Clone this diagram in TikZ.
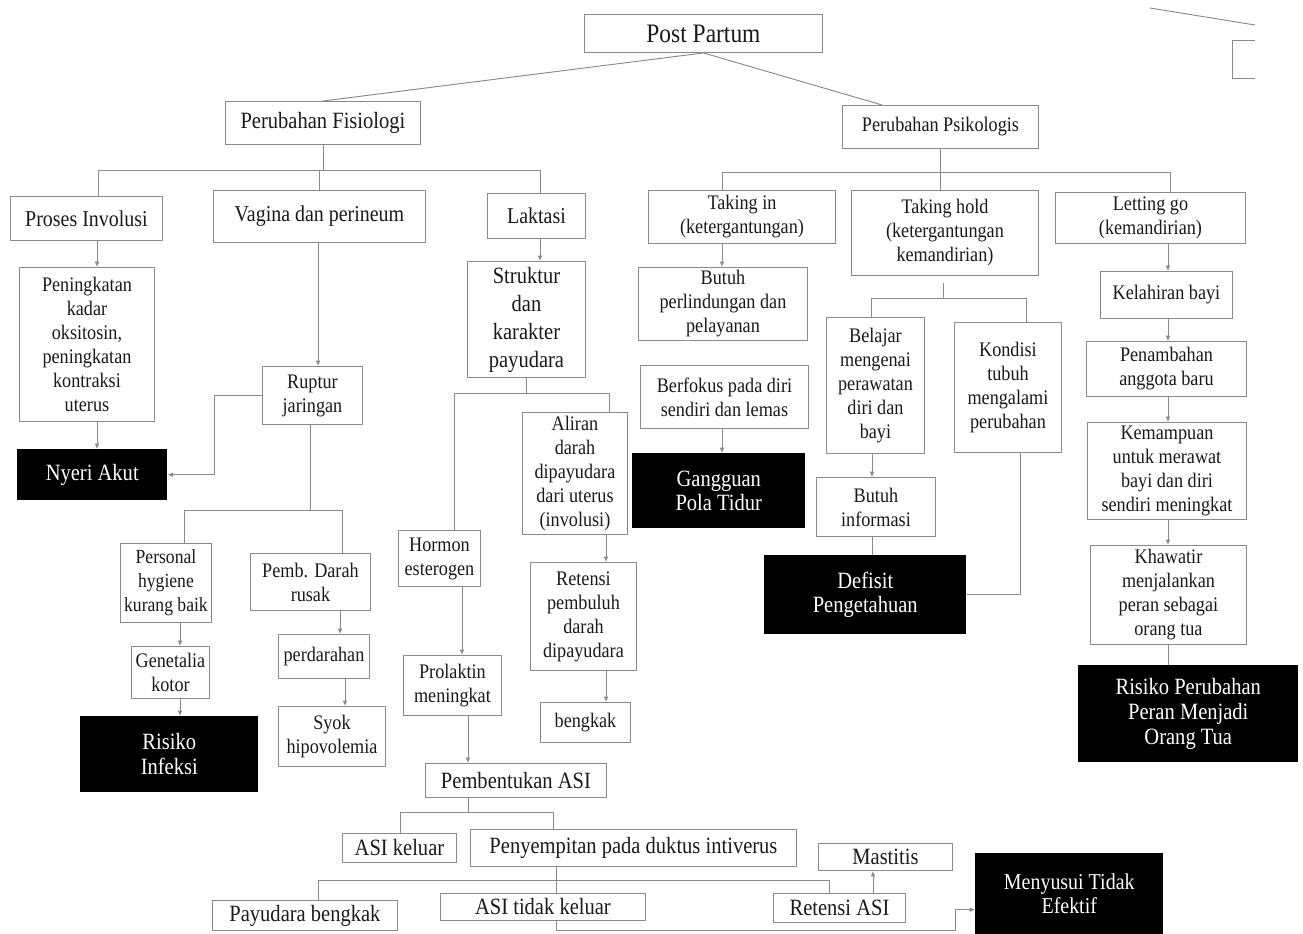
\documentclass[tikz,border=0pt]{standalone}
\usepackage{fontspec}
\setmainfont{Liberation Serif}[FakeStretch=0.88]
\usetikzlibrary{arrows.meta,calc}
\definecolor{lc}{HTML}{8A8A8A}
\definecolor{tc}{HTML}{1A1A1A}
\newcommand\myfs[2]{\fontsize{#1}{#2}\selectfont}
\tikzset{
  sz/.style 2 args={minimum width=#1*0.75pt, minimum height=#2*0.75pt},
  bx/.style={draw=lc, line width=0.7pt, fill=white, text=tc, align=center, inner sep=0pt, anchor=north west, font=\myfs{15.5}{18}},
  bk/.style={fill=black, text=white, align=center, inner sep=0pt, anchor=north west, font=\myfs{17.5}{18.5}},
  hd/.style={font=\myfs{17}{18}},
  bt/.style={font=\myfs{17.5}{18}},
  ln/.style={draw=lc, line width=0.7pt},
  ar/.style={ln, -{Latex[length=4pt,width=3.5pt]}},
}
\begin{document}
\begin{tikzpicture}[x=0.75pt,y=-0.75pt]
\fill[white] (0,0) rectangle (1303,934);
\useasboundingbox (0,0) rectangle (1303,934);

% top level
\node[bx, sz={238}{38}, font=\myfs{20}{22}] (pp) at (584,14) {Post Partum};
\node[bx, sz={195}{43}, font=\myfs{17.5}{18}] (pf) at (225,101) {Perubahan Fisiologi};
\node[bx, sz={196}{43}] (ps) at (842,105) {Perubahan Psikologis};

% level 2
\node[bx, hd, sz={152}{44}] (pi) at (10,196) {Proses Involusi};
\node[bx, hd, sz={212}{52}] (vp) at (213,190) {Vagina dan perineum};
\node[bx, hd, sz={98}{45}] (lk) at (487,193) {Laktasi};
\node[bx, sz={187}{53}] (ti) at (648,190) {Taking in\\(ketergantungan)};
\node[bx, sz={187}{85}] (th) at (851,190) {Taking hold\\(ketergantungan\\kemandirian)};
\node[bx, sz={190}{51}] (lg) at (1055,192) {Letting go\\(kemandirian)};

% fisiologi branch
\node[bx, sz={135}{154}] (pk) at (19,267) {Peningkatan\\kadar\\oksitosin,\\peningkatan\\kontraksi\\uterus};
\node[bk, sz={150}{51}] (ny) at (17,449) {Nyeri Akut};
\node[bx, sz={100}{58}] (rj) at (262,366) {Ruptur\\jaringan};
\node[bx, sz={91}{79}, font=\myfs{15}{18}] (ph) at (120,543) {Personal\\hygiene\\kurang baik};
\node[bx, sz={120}{57}] (pd) at (250,553) {Pemb. Darah\\rusak};
\node[bx, sz={78}{52}] (gk) at (131,646) {Genetalia\\kotor};
\node[bx, sz={91}{44}] (pr) at (278,634) {perdarahan};
\node[bk, sz={178}{76}] (ri) at (80,716) {Risiko\\Infeksi};
\node[bx, sz={107}{60}] (sy) at (278,706) {Syok\\hipovolemia};

% laktasi branch
\node[bx, sz={118}{116}, font=\myfs{17.5}{21}] (st) at (467,261) {Struktur\\dan\\karakter\\payudara};
\node[bx, sz={105}{122}] (al) at (522,412) {Aliran\\darah\\dipayudara\\dari uterus\\(involusi)};
\node[bx, sz={82}{56}] (ho) at (398,530) {Hormon\\esterogen};
\node[bx, sz={106}{108}] (rp) at (530,562) {Retensi\\pembuluh\\darah\\dipayudara};
\node[bx, sz={98}{60}] (pl) at (403,655) {Prolaktin\\meningkat};
\node[bx, sz={90}{40}] (bg) at (540,702) {bengkak};
\node[bx, bt, sz={181}{34}] (pa) at (425,763) {Pembentukan ASI};
\node[bx, bt, sz={114}{29}] (ak) at (342,833) {ASI keluar};
\node[bx, bt, sz={326}{37}] (py) at (470,829) {Penyempitan pada duktus intiverus};
\node[bx, bt, sz={134}{27}] (mt) at (818,843) {Mastitis};
\node[bx, bt, sz={185}{30}] (pb) at (212,900) {Payudara bengkak};
\node[bx, bt, sz={205}{27}] (at) at (440,893) {ASI tidak keluar};
\node[bx, bt, sz={132}{29}] (ra) at (773,893) {Retensi ASI};
\node[bk, sz={188}{81}, font=\myfs{17}{17.5}] (ms) at (975,853) {Menyusui Tidak\\Efektif};

% psikologis branch
\node[bx, sz={169}{73}] (bp) at (638,267) {Butuh\\perlindungan dan\\pelayanan};
\node[bx, sz={168}{63}] (bf) at (640,365) {Berfokus pada diri\\sendiri dan lemas};
\node[bk, sz={173}{75}] (gp) at (632,453) {Gangguan\\Pola Tidur};
\node[bx, sz={98}{136}] (bj) at (826,317) {Belajar\\mengenai\\perawatan\\diri dan\\bayi};
\node[bx, sz={107}{130}] (kd) at (954,322) {Kondisi\\tubuh\\mengalami\\perubahan};
\node[bx, sz={119}{59}] (bi) at (816,477) {Butuh\\informasi};
\node[bk, sz={202}{79}] (df) at (764,555) {Defisit\\Pengetahuan};
\node[bx, sz={132}{47}] (kb) at (1100,271) {Kelahiran bayi};
\node[bx, sz={160}{55}] (pn) at (1086,341) {Penambahan\\anggota baru};
\node[bx, sz={159}{97}] (km) at (1087,422) {Kemampuan\\untuk merawat\\bayi dan diri\\sendiri meningkat};
\node[bx, sz={156}{99}] (kh) at (1090,545) {Khawatir\\menjalankan\\peran sebagai\\orang tua};
\node[bk, sz={220}{97}, font=\myfs{17.5}{19}] (rpo) at (1078,665) {Risiko Perubahan\\Peran Menjadi\\Orang Tua};

% top connectors
\draw[ln] (pp.south) -- (pf.north);
\draw[ln] (pp.south) -- ($(ps.north west)+(40,0)$);
% cut-off fragment at top right
\draw[ln] (1150,8) -- (1255,25);
\draw[ln] (1255,40) -- (1232,40) -- (1232,78) -- (1255,78);

% fisiologi bus
\coordinate (fb1) at (98,170);
\coordinate (fb2) at (540,170);
\draw[ln] (pf.south) -- (pf.south |- fb1);
\draw[ln] (pi.north -| fb1) |- (fb2) -- (lk.north -| fb2);
\draw[ln] (vp.north) -- (vp.north |- fb1);

\coordinate (xa) at (97,0);
\draw[ar] (pi.south -| xa) -- (pk.north -| xa);
\draw[ar] (pk.south -| xa) -- (ny.north -| xa);
\coordinate (xb) at (318,0);
\draw[ar] (vp.south -| xb) -- (rj.north -| xb);
\draw[ar] (rj.west) -- ++(-48,0) |- (ny.east);

\coordinate (rb1) at (184,510);
\coordinate (rb2) at (342,510);
\coordinate (xc) at (310,0);
\draw[ln] (rj.south -| xc) -- (xc |- rb1);
\draw[ln] (ph.north -| rb1) |- (rb2) -- (pd.north -| rb2);
\coordinate (xd) at (180,0);
\draw[ar] (ph.south -| xd) -- (gk.north -| xd);
\draw[ar] (gk.south -| xd) -- (ri.north -| xd);
\coordinate (xe) at (340,0);
\coordinate (xf) at (345,0);
\draw[ar] (pd.south -| xe) -- (pr.north -| xe);
\draw[ar] (pr.south -| xf) -- (sy.north -| xf);

% laktasi
\draw[ar] (lk.south -| fb2) -- (st.north -| fb2);
\coordinate (sb1) at (454,393);
\coordinate (sb2) at (609,393);
\draw[ln] (st.south) -- (st.south |- sb1);
\draw[ln] (ho.north -| sb1) |- (sb2) -- (al.north -| sb2);
\coordinate (xh) at (606,0);
\draw[ar] (al.south -| xh) -- (rp.north -| xh);
\draw[ar] (rp.south -| xh) -- (bg.north -| xh);
\coordinate (xi) at (462,0);
\draw[ar] (ho.south -| xi) -- (pl.north -| xi);
\coordinate (xj) at (468,0);
\draw[ar] (pl.south -| xj) -- (pa.north -| xj);
\coordinate (pb1) at (400,812);
\coordinate (pb2) at (553,812);
\draw[ln] (pa.south -| xj) -- (xj |- pb1);
\draw[ln] (ak.north -| pb1) |- (pb2) -- (py.north -| pb2);
\coordinate (xk) at (556,0);
\draw[ln] (py.south -| xk) -- (at.north -| xk);
\coordinate (qb1) at (318,880);
\coordinate (qb2) at (829,880);
\draw[ln] (pb.north -| qb1) |- (qb2) -- (ra.north -| qb2);
\coordinate (xl) at (873,0);
\draw[ar] (ra.north -| xl) -- (mt.south -| xl);
\draw[ar] (at.south -| xk) -- ++(0,10) -| ($(ms.west)+(-20,16)$) -- ($(ms.west)+(0,16)$);

% psikologis
\coordinate (qa1) at (722,172);
\coordinate (qa2) at (1170,172);
\draw[ln] (ps.south) -- (ps.south |- th.north);
\draw[ln] (ti.north -| qa1) |- (qa2) -- (lg.north -| qa2);
\draw[ar] (ti.south -| qa1) -- (bp.north -| qa1);
\draw[ar] (bf.south -| qa1) -- (gp.north -| qa1);
\coordinate (xm) at (943,0);
\coordinate (tb1) at (871,298);
\coordinate (tb2) at (1026,298);
\draw[ln] ($(th.south -| xm)+(0,7)$) -- (xm |- tb1);
\draw[ln] (bj.north -| tb1) |- (tb2) -- (kd.north -| tb2);
\coordinate (xn) at (872,0);
\draw[ar] (bj.south -| xn) -- (bi.north -| xn);
\draw[ln] (bi.south -| xn) -- (df.north -| xn);
\coordinate (xo) at (1020,0);
\draw[ln] (kd.south -| xo) |- (df.east);
\coordinate (xp) at (1168,0);
\draw[ar] (lg.south -| xp) -- (kb.north -| xp);
\draw[ar] (kb.south -| xp) -- (pn.north -| xp);
\draw[ar] (pn.south -| xp) -- (km.north -| xp);
\draw[ar] (km.south -| xp) -- (kh.north -| xp);
\draw[ln] (kh.south -| xp) -- (rpo.north -| xp);
\end{tikzpicture}
\end{document}
